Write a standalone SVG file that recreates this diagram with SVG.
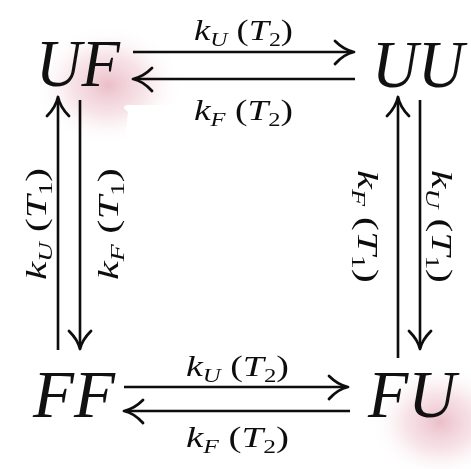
<svg xmlns="http://www.w3.org/2000/svg" width="471" height="469" viewBox="0 0 471 469">
<defs>
<radialGradient id="glow" cx="0.5" cy="0.5" r="0.5">
<stop offset="0" stop-color="#e9b7c3" stop-opacity="0.9"/>
<stop offset="0.5" stop-color="#f2d3da" stop-opacity="0.6"/>
<stop offset="1" stop-color="#ffffff" stop-opacity="0"/>
</radialGradient>
<filter id="bl"><feGaussianBlur stdDeviation="0.6"/></filter>
</defs>
<style>
.n{font-family:"Liberation Serif",serif;font-style:italic;font-size:68px;fill:#111}
.l{font-family:"Liberation Serif",serif;font-size:29px;fill:#111}
.i{font-style:italic}
.s{font-size:19px}
.ln{stroke:#111;stroke-width:2.6;fill:none}
.hd{stroke:#111;stroke-width:2.8;fill:none;stroke-linecap:round;stroke-linejoin:round}
</style>
<rect width="471" height="469" fill="#fff"/>
<ellipse cx="108" cy="85" rx="75" ry="60" fill="url(#glow)"/>
<ellipse cx="440" cy="422" rx="70" ry="58" fill="url(#glow)"/>
<path d="M128 112 Q120 106 128 105 L175 105 L175 165 L122 165 Z" fill="#fff"/>
<g id="UF"><text class="n" x="36" y="86" textLength="84" lengthAdjust="spacingAndGlyphs">UF</text></g>
<g id="UU"><text class="n" x="372" y="87" textLength="92" lengthAdjust="spacingAndGlyphs">UU</text></g>
<g id="FF"><text class="n" x="33" y="417" textLength="82" lengthAdjust="spacingAndGlyphs">FF</text></g>
<g id="FU"><text class="n" x="368" y="417" textLength="88" lengthAdjust="spacingAndGlyphs">FU</text></g>
<g id="connectors" filter="url(#bl)">
<line class="ln" x1="133" y1="52" x2="352" y2="52"/>
<path class="hd" d="M335 41 Q344 50 354 52 Q344 54 335 64"/>
<line class="ln" x1="136" y1="79" x2="355" y2="79"/>
<path class="hd" d="M152 68 Q143 77 133 79 Q143 81 152 91"/>
<line class="ln" x1="124" y1="387" x2="346" y2="387"/>
<path class="hd" d="M329 376 Q338 385 348 387 Q338 389 329 399"/>
<line class="ln" x1="127" y1="411" x2="350" y2="411"/>
<path class="hd" d="M143 400 Q134 409 124 411 Q134 413 143 423"/>
<line class="ln" x1="58" y1="100" x2="58" y2="350"/>
<path class="hd" d="M47 116 Q56 107 58 97 Q60 107 69 116"/>
<line class="ln" x1="80" y1="100" x2="80" y2="346"/>
<path class="hd" d="M69 331 Q78 340 80 349 Q82 340 91 331"/>
<line class="ln" x1="398" y1="100" x2="398" y2="358"/>
<path class="hd" d="M387 116 Q396 107 398 97 Q400 107 409 116"/>
<line class="ln" x1="420" y1="100" x2="420" y2="346"/>
<path class="hd" d="M409 331 Q418 340 420 349 Q422 340 431 331"/>
<text class="l" x="194" y="40" textLength="99" lengthAdjust="spacingAndGlyphs"><tspan class="i">k</tspan><tspan class="i s" dy="6">U</tspan><tspan dy="-6"> (</tspan><tspan class="i">T</tspan><tspan class="s" dy="6">2</tspan><tspan dy="-6">)</tspan></text>
<text class="l" x="194" y="120" textLength="99" lengthAdjust="spacingAndGlyphs"><tspan class="i">k</tspan><tspan class="i s" dy="6">F</tspan><tspan dy="-6"> (</tspan><tspan class="i">T</tspan><tspan class="s" dy="6">2</tspan><tspan dy="-6">)</tspan></text>
<text class="l" x="186" y="376" textLength="103" lengthAdjust="spacingAndGlyphs"><tspan class="i">k</tspan><tspan class="i s" dy="6">U</tspan><tspan dy="-6"> (</tspan><tspan class="i">T</tspan><tspan class="s" dy="6">2</tspan><tspan dy="-6">)</tspan></text>
<text class="l" x="186" y="447" textLength="103" lengthAdjust="spacingAndGlyphs"><tspan class="i">k</tspan><tspan class="i s" dy="6">F</tspan><tspan dy="-6"> (</tspan><tspan class="i">T</tspan><tspan class="s" dy="6">2</tspan><tspan dy="-6">)</tspan></text>
<text class="l" transform="translate(46 280) rotate(-90)" textLength="112" lengthAdjust="spacingAndGlyphs"><tspan class="i">k</tspan><tspan class="i s" dy="6">U</tspan><tspan dy="-6"> (</tspan><tspan class="i">T</tspan><tspan class="s" dy="6">1</tspan><tspan dy="-6">)</tspan></text>
<text class="l" transform="translate(118 280) rotate(-90)" textLength="112" lengthAdjust="spacingAndGlyphs"><tspan class="i">k</tspan><tspan class="i s" dy="6">F</tspan><tspan dy="-6"> (</tspan><tspan class="i">T</tspan><tspan class="s" dy="6">1</tspan><tspan dy="-6">)</tspan></text>
<text class="l" transform="translate(358 170) rotate(90)" textLength="113" lengthAdjust="spacingAndGlyphs"><tspan class="i">k</tspan><tspan class="i s" dy="6">F</tspan><tspan dy="-6"> (</tspan><tspan class="i">T</tspan><tspan class="s" dy="6">1</tspan><tspan dy="-6">)</tspan></text>
<text class="l" transform="translate(432 170) rotate(90)" textLength="113" lengthAdjust="spacingAndGlyphs"><tspan class="i">k</tspan><tspan class="i s" dy="6">U</tspan><tspan dy="-6"> (</tspan><tspan class="i">T</tspan><tspan class="s" dy="6">1</tspan><tspan dy="-6">)</tspan></text>
</g>
</svg>
